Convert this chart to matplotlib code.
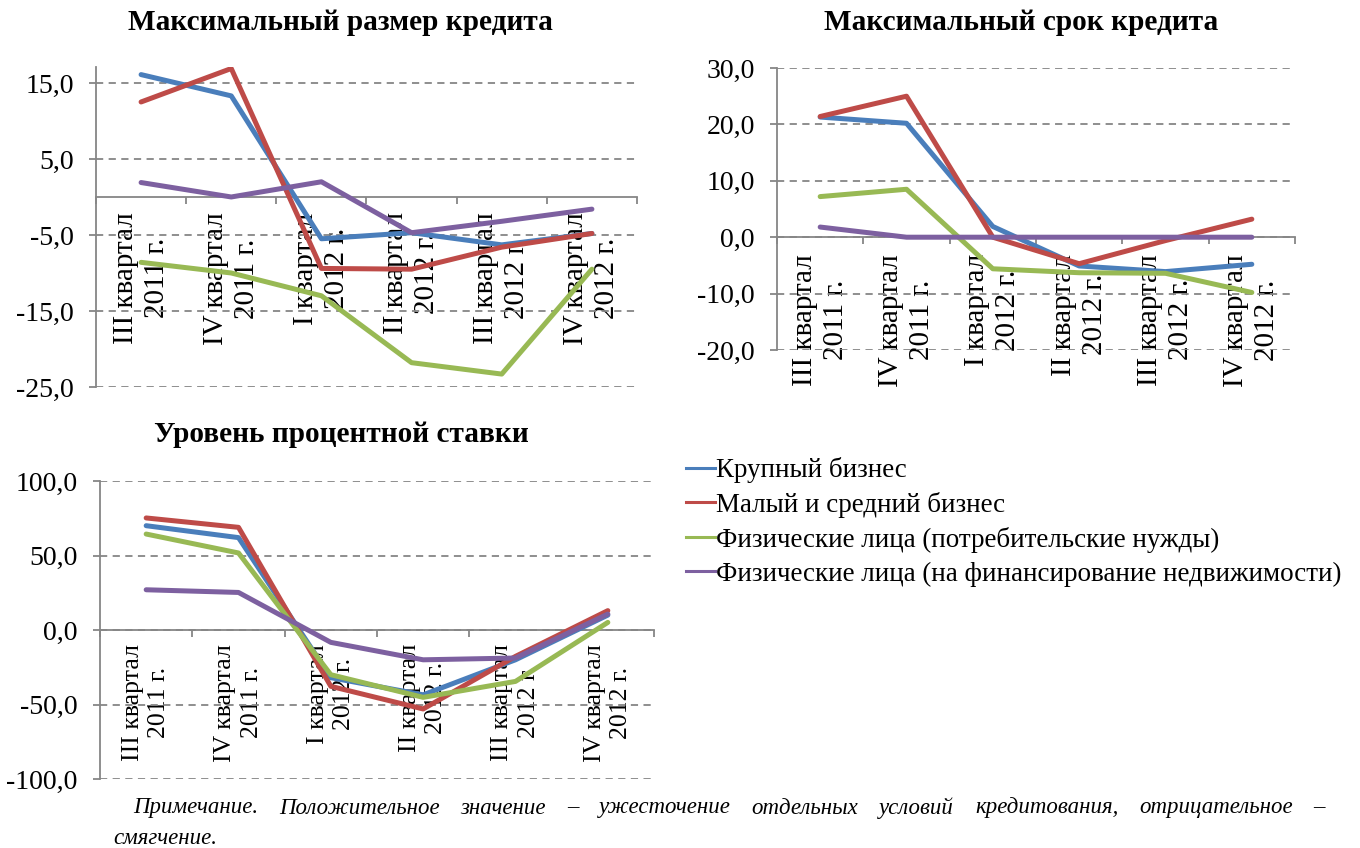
import matplotlib
matplotlib.use('Agg')
import matplotlib.pyplot as plt
from matplotlib.lines import Line2D

plt.rcParams['font.family'] = ['Liberation Serif', 'DejaVu Serif']

# ---------------- data ----------------
categories = ['III квартал\n2011 г.', 'IV квартал\n2011 г.', 'I квартал\n2012 г.',
              'II квартал\n2012 г.', 'III квартал\n2012 г.', 'IV квартал\n2012 г.']
series_names = ['Крупный бизнес', 'Малый и средний бизнес',
                'Физические лица (потребительские нужды)',
                'Физические лица (на финансирование недвижимости)']
colors = ['#4A7EBB', '#BE4B48', '#98B954', '#7D60A0']

titles = ['Максимальный размер кредита', 'Максимальный срок кредита', 'Уровень процентной ставки']

# Максимальный размер кредита
size_large = [16.1, 13.3, -5.5, -4.7, -6.3, -4.8]
size_sme = [12.5, 16.9, -9.4, -9.5, -6.6, -4.8]
size_cons = [-8.6, -10.0, -13.0, -21.8, -23.3, -9.5]
size_mort = [1.9, 0.0, 2.0, -4.7, -3.2, -1.6]
size_ticks = [15, 5, -5, -15, -25]

# Максимальный срок кредита
term_large = [21.3, 20.2, 1.9, -5.1, -6.1, -4.8]
term_sme = [21.4, 25.0, 0.0, -4.7, -0.6, 3.2]
term_cons = [7.2, 8.5, -5.6, -6.3, -6.4, -9.8]
term_mort = [1.8, 0.0, 0.0, 0.0, 0.0, 0.0]
term_ticks = [30, 20, 10, 0, -10, -20]

# Уровень процентной ставки
rate_large = [70.0, 62.0, -32.0, -43.5, -20.0, 10.0]
rate_sme = [75.2, 68.9, -37.8, -53.0, -17.7, 13.0]
rate_cons = [64.4, 51.7, -30.0, -45.2, -34.5, 5.1]
rate_mort = [27.0, 25.2, -8.3, -20.0, -18.8, 10.7]
rate_ticks = [100, 50, 0, -50, -100]

note_line1 = 'Примечание. Положительное значение – ужесточение отдельных условий кредитования, отрицательное –'
note_line2 = 'смягчение.'

# ---------------- figure ----------------
W, H = 1360, 848
fig = plt.figure(figsize=(W / 100, H / 100), dpi=100)
renderer = fig.canvas.get_renderer()
GRAY = '#868686'


def fx(px):
    return px / W


def fy(py):
    return 1 - py / H


def text_width(s, size, **kw):
    t = fig.text(0, 0, s, fontsize=size, **kw)
    w = t.get_window_extent(renderer).width
    t.remove()
    return w


def fit(s, target, **kw):
    return 20 * target / text_width(s, 20, **kw)


def fmt(v):
    return f'{v:.1f}'.replace('.', ',')


def draw(rect, series, ylim, ticks, xfs, yfs, xpad):
    ax = fig.add_axes(rect)
    ax.set_facecolor('none')
    for vals, c in zip(series, colors):
        ax.plot(range(len(categories)), vals, color=c, lw=3.6,
                solid_capstyle='round', solid_joinstyle='round', zorder=3)
    ax.set_xlim(-0.5, len(categories) - 0.5)
    ax.set_ylim(*ylim)
    ax.set_yticks(ticks)
    ax.set_yticklabels([fmt(v) for v in ticks], fontsize=yfs)
    ax.grid(axis='y', color=GRAY, lw=1.3, ls=(0, (4, 3)), zorder=1)
    ax.set_axisbelow(True)
    for s in ['top', 'right']:
        ax.spines[s].set_visible(False)
    ax.spines['left'].set_color(GRAY)
    ax.spines['left'].set_linewidth(1.3)
    ax.spines['bottom'].set_position(('data', 0))
    ax.spines['bottom'].set_color(GRAY)
    ax.spines['bottom'].set_linewidth(1.3)
    ax.spines['bottom'].set_zorder(2)
    ax.set_xticks([i - 0.5 for i in range(len(categories) + 1)])
    ax.set_xticklabels([])
    ax.set_xticks(range(len(categories)), minor=True)
    ax.set_xticklabels(categories, minor=True, rotation=90, fontsize=xfs,
                       ha='center', va='top', multialignment='center',
                       linespacing=1.25)
    ax.tick_params(axis='x', which='major', length=5, width=1.3, color=GRAY, direction='out')
    ax.tick_params(axis='x', which='minor', length=0, pad=xpad)
    ax.tick_params(axis='y', length=5, width=1.3, color=GRAY, direction='out', pad=11)
    return ax


series1 = [size_large, size_sme, size_cons, size_mort]
series2 = [term_large, term_sme, term_cons, term_mort]
series3 = [rate_large, rate_sme, rate_cons, rate_mort]

ax1 = draw([fx(96), fy(387), fx(637 - 96), (387 - 67) / H], series1, (-25, 17.1),
           size_ticks, 21, 20, 11)
ax2 = draw([fx(777), fy(350), fx(1295 - 777), (350 - 68) / H], series2, (-20, 30),
           term_ticks, 21, 20, 12)
ax3 = draw([fx(100), fy(779), fx(654 - 100), (779 - 481) / H], series3, (-100, 100),
           rate_ticks, 18.5, 20, 10)

# titles
tfs = fit(titles[0], 425, weight='bold')
fig.text(fx(340), fy(22), titles[0], fontsize=tfs, weight='bold', ha='center', va='center')
fig.text(fx(1021), fy(22), titles[1], fontsize=tfs, weight='bold', ha='center', va='center')
fig.text(fx(341), fy(435), titles[2], fontsize=tfs, weight='bold', ha='center', va='center')

# legend
lfs = fit(series_names[3], 627)
handles = [Line2D([], [], color=c, lw=2.2) for c in colors]
lfs_px = lfs * 100 / 72
fig.legend(handles, series_names, loc='upper left', bbox_to_anchor=(fx(686), fy(457)),
           frameon=False, fontsize=lfs, handlelength=29 / lfs_px, handletextpad=0.05,
           labelspacing=0.33, borderpad=0, borderaxespad=0)

# note (justified first line)
nfs = 16.5
x0, x1 = 133, 1325
words = note_line1.split(' ')
widths = [text_width(w, nfs, style='italic') for w in words]
gap = (x1 - x0 - sum(widths)) / (len(words) - 1)
x = x0
for w, wd in zip(words, widths):
    fig.text(fx(x), fy(808), w, fontsize=nfs, style='italic', ha='left', va='center')
    x += wd + gap
fig.text(fx(113), fy(838), note_line2, fontsize=nfs, style='italic', ha='left', va='center')

fig.savefig('out.png', dpi=100)
